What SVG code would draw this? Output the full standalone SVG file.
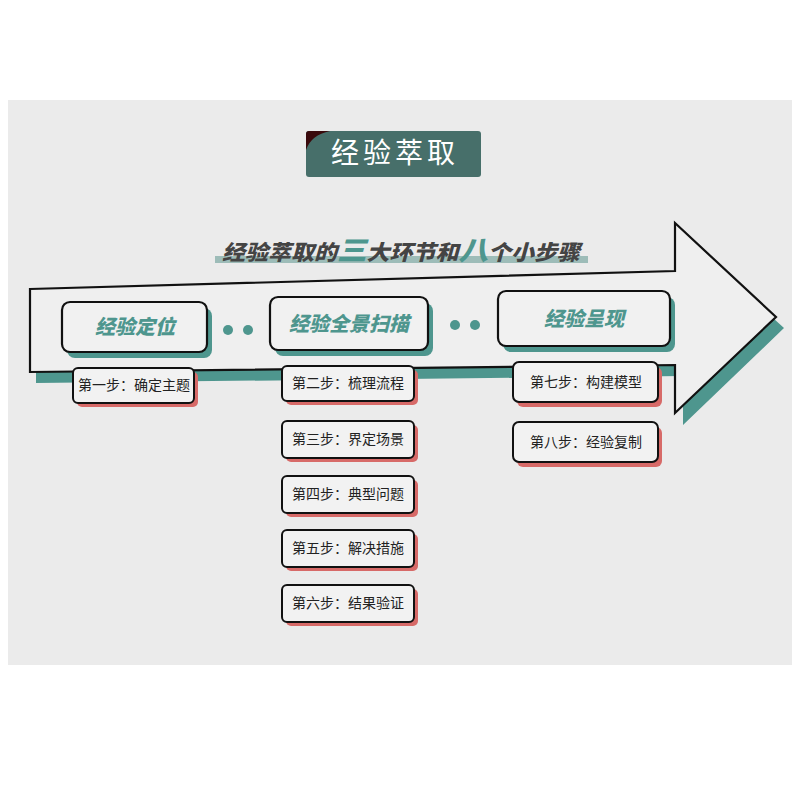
<svg xmlns="http://www.w3.org/2000/svg" width="800" height="800" viewBox="0 0 800 800">
<style>
.main{fill:#f1f1f1;stroke:#111;stroke-width:2.2}
.mshadow{fill:#4e968e}
.sshadow{fill:#d76a68}
.step{fill:#f2f2f2;stroke:#111;stroke-width:2}
.mt{font-family:"Noto Sans CJK SC",sans-serif;font-weight:900;font-style:italic;font-size:20px;fill:#4e968e;text-anchor:middle}
.st{font-family:"Noto Sans CJK SC",sans-serif;font-size:14px;fill:#222;text-anchor:middle}
.dot{fill:#4e968e}
</style>
<rect x="0" y="0" width="800" height="800" fill="#ffffff"/>
<rect x="8" y="100" width="784" height="565" fill="#ebebeb"/>
<g id="title">
<rect x="306" y="131" width="175" height="46" rx="3" fill="#476f6a"/>
<path d="M306 150 Q311 135 330 131 L309 131 Q306 131 306 134 Z" fill="#3a0a0c"/>
<text x="395" y="163" font-family="Noto Sans CJK SC,sans-serif" font-size="28" fill="#ffffff" text-anchor="middle" letter-spacing="4">经验萃取</text>
</g>
<g id="arrow">
<polygon points="36,383 683,376 683,425 784,328 683,236 683,282 36,300" fill="#4e968e"/>
<polygon points="30,289 675,271 675,223 776,317 675,413 675,365 30,372" fill="#efefef" stroke="#111" stroke-width="2.2" stroke-linejoin="miter"/>
</g>
<g id="subtitle">
<rect x="215" y="256" width="373" height="7" fill="#9dbcb8"/>
<text x="222" y="260" textLength="358" lengthAdjust="spacingAndGlyphs" font-family="Noto Sans CJK SC,sans-serif" font-weight="900" font-style="italic" font-size="21" fill="#444">经验萃取的<tspan fill="#4e968e" font-size="27">三</tspan>大环节和<tspan fill="#4e968e" font-size="27">八</tspan>个小步骤</text>
</g>
<g id="node-1">
<rect x="67" y="308" width="145" height="50" rx="8" class="mshadow"/>
<rect x="62" y="302" width="145" height="50" rx="8" class="main"/>
<text x="135" y="334" class="mt">经验定位</text>
</g>
<g id="node-2">
<rect x="275" y="303" width="158" height="53" rx="8" class="mshadow"/>
<rect x="270" y="297" width="158" height="53" rx="8" class="main"/>
<text x="349" y="331" class="mt">经验全景扫描</text>
</g>
<g id="node-3">
<rect x="503" y="297" width="172" height="55" rx="8" class="mshadow"/>
<rect x="498" y="291" width="172" height="55" rx="8" class="main"/>
<text x="584" y="326" class="mt">经验呈现</text>
</g>
<g id="connectors">
<circle cx="228" cy="330" r="5" class="dot"/>
<circle cx="248" cy="330" r="5" class="dot"/>
<circle cx="455" cy="325" r="5" class="dot"/>
<circle cx="475" cy="325" r="5" class="dot"/>
</g>
<g id="step-1">
<rect x="77" y="372" width="121" height="35" rx="5" class="sshadow"/>
<rect x="73" y="368" width="121" height="35" rx="5" class="step"/>
<text x="134" y="390" class="st" font-size="13">第一步：确定主题</text>
</g>
<g id="step-2">
<rect x="286" y="370" width="132" height="35" rx="5" class="sshadow"/>
<rect x="282" y="366" width="132" height="35" rx="5" class="step"/>
<text x="348" y="388" class="st">第二步：梳理流程</text>
</g>
<g id="step-3">
<rect x="286" y="425" width="132" height="37" rx="5" class="sshadow"/>
<rect x="282" y="421" width="132" height="37" rx="5" class="step"/>
<text x="348" y="444" class="st">第三步：界定场景</text>
</g>
<g id="step-4">
<rect x="286" y="480" width="132" height="37" rx="5" class="sshadow"/>
<rect x="282" y="476" width="132" height="37" rx="5" class="step"/>
<text x="348" y="499" class="st">第四步：典型问题</text>
</g>
<g id="step-5">
<rect x="286" y="534" width="132" height="37" rx="5" class="sshadow"/>
<rect x="282" y="530" width="132" height="37" rx="5" class="step"/>
<text x="348" y="553" class="st">第五步：解决措施</text>
</g>
<g id="step-6">
<rect x="286" y="589" width="132" height="37" rx="5" class="sshadow"/>
<rect x="282" y="585" width="132" height="37" rx="5" class="step"/>
<text x="348" y="608" class="st">第六步：结果验证</text>
</g>
<g id="step-7">
<rect x="517" y="367" width="145" height="40" rx="6" class="sshadow"/>
<rect x="513" y="362" width="145" height="40" rx="6" class="step"/>
<text x="586" y="387" class="st">第七步：构建模型</text>
</g>
<g id="step-8">
<rect x="517" y="427" width="145" height="40" rx="6" class="sshadow"/>
<rect x="513" y="422" width="145" height="40" rx="6" class="step"/>
<text x="586" y="447" class="st">第八步：经验复制</text>
</g>
</svg>
